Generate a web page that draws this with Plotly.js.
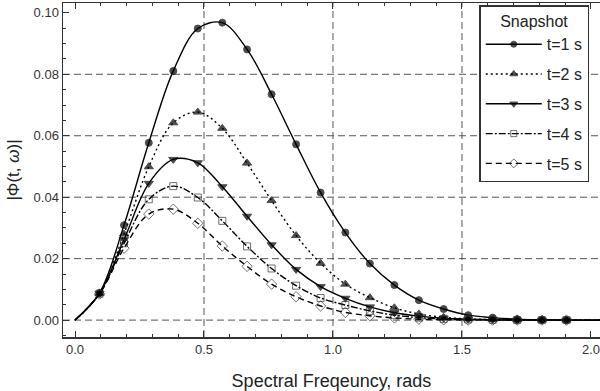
<!DOCTYPE html>
<html><head><meta charset="utf-8">
<script src="https://cdn.plot.ly/plotly-3.0.1.min.js"></script>
<style>html,body{margin:0;padding:0;background:#fff}#chart{width:600px;height:391px}</style>
</head><body><div id="chart"></div>
<script>
// Spectral frequency samples (rads): line from 0, markers at the inner points
const freq = [0, 0.095, 0.190, 0.286, 0.381, 0.476, 0.571, 0.667, 0.762, 0.857, 0.952,
  1.048, 1.143, 1.238, 1.333, 1.429, 1.524, 1.619, 1.714, 1.810, 1.905, 2.000, 2.095];
const seriesNames = ['t=1 s', 't=2 s', 't=3 s', 't=4 s', 't=5 s'];
const phiT1 = [0, 0.0088, 0.0309, 0.0577, 0.0811, 0.0949, 0.0968, 0.0881, 0.0735, 0.0572, 0.0415,
  0.0285, 0.0184, 0.0114, 0.0065, 0.0036, 0.0016, 0.0008, 0.0003, 0.0001, 0.0000, 0, 0];
const phiT2 = [0, 0.0087, 0.0280, 0.0499, 0.0642, 0.0677, 0.0624, 0.0511, 0.0389, 0.0275, 0.0185,
  0.0117, 0.0073, 0.0040, 0.0020, 0.0009, 0.0004, 0.0002, 0.0001, 0, 0, 0, 0];
const phiT3 = [0, 0.0087, 0.0262, 0.0445, 0.0523, 0.0512, 0.0434, 0.0338, 0.0245, 0.0165, 0.0109,
  0.0071, 0.0043, 0.0024, 0.0013, 0.0006, 0.0003, 0.0001, 0, 0, 0, 0, 0];
const phiT4 = [0, 0.0086, 0.0250, 0.0393, 0.0436, 0.0399, 0.0323, 0.0240, 0.0168, 0.0112, 0.0072,
  0.0049, 0.0030, 0.0016, 0.0008, 0.0004, 0.0002, 0.0001, 0, 0, 0, 0, 0];
const phiT5 = [0, 0.0085, 0.0234, 0.0345, 0.0361, 0.0315, 0.0241, 0.0175, 0.0117, 0.0076, 0.0046,
  0.0025, 0.0014, 0.0007, 0.0003, 0.0001, 0, 0, 0, 0, 0, 0, 0];
const allSeries = [phiT1, phiT2, phiT3, phiT4, phiT5];
const gridX = [0.5, 1.0, 1.5];
const gridY = [0, 0.02, 0.04, 0.06, 0.08];

const symbols = ['circle', 'triangle-up', 'triangle-down', 'square-open', 'diamond-open'];
const dashes = ['solid', '2px,3px', 'solid', '7px,2px,2px,2px', '6px,4px'];
const msizes = [7, 8, 8, 7, 8];
const mcolors = ['#000', '#000', '#000', '#333', '#333'];

const traces = allSeries.map((ys, i) => ({
  type: 'scatter', mode: 'lines+markers', name: seriesNames[i], legendgroup: 'g' + i,
  x: freq, y: ys,
  line: {color: '#000', width: 1.4, dash: dashes[i], shape: 'spline', smoothing: 1},
  marker: {symbol: symbols[i], color: mcolors[i],
    size: freq.map((f, j) => (j === 0 || j >= freq.length - 2) ? 0 : msizes[i]),
    line: {color: mcolors[i], width: 1}}
}));

const shapes = [];
gridX.forEach(v => shapes.push({type: 'line', xref: 'x', yref: 'paper', x0: v, x1: v, y0: 0, y1: 1,
  layer: 'below', line: {color: '#555', width: 1, dash: '7px,4px'}}));
gridY.forEach(v => shapes.push({type: 'line', xref: 'paper', yref: 'y', x0: 0, x1: 1, y0: v, y1: v,
  layer: 'below', line: {color: '#555', width: 1, dash: '7px,4px'}}));

const fontFam = 'Liberation Sans, Arial, sans-serif';
const layout = {
  width: 600, height: 391,
  margin: {l: 63, r: 0, t: 3, b: 54},
  paper_bgcolor: '#fff', plot_bgcolor: '#fff',
  font: {family: fontFam, color: '#222'},
  showlegend: true,
  shapes: shapes,
  xaxis: {
    range: [-0.0465, 2.035], tick0: 0, dtick: 0.5, tickformat: '.1f',
    ticks: 'inside', ticklen: 6, tickwidth: 1, tickcolor: '#333',
    showline: true, linecolor: '#333', linewidth: 1.5, mirror: 'allticks',
    showgrid: false, zeroline: false, ticklabeloverflow: 'allow',
    minor: {dtick: 0.1, tick0: 0, ticks: 'inside', ticklen: 3, tickcolor: '#333', showgrid: false},
    tickfont: {family: fontFam, size: 13, color: '#333'},
    title: {text: 'Spectral Freqeuncy, rads', font: {family: fontFam, size: 18, color: '#222'}}
  },
  yaxis: {
    range: [-0.0055, 0.1032], tick0: 0, dtick: 0.02, tickformat: '.2f',
    ticks: 'inside', ticklen: 6, tickwidth: 1, tickcolor: '#333',
    showline: true, linecolor: '#333', linewidth: 1.5, mirror: false,
    showgrid: false, zeroline: false,
    minor: {dtick: 0.005, tick0: 0, ticks: 'inside', ticklen: 3, tickcolor: '#333', showgrid: false},
    tickfont: {family: fontFam, size: 13, color: '#333'},
    title: {text: '|Φ(t, <i>ω</i>)|', font: {family: fontFam, size: 17, color: '#222'}}
  },
  legend: {
    x: 0.98, xanchor: 'right', y: 0.994, yanchor: 'top',
    bgcolor: '#fff', bordercolor: '#333', borderwidth: 1.5,
    font: {family: fontFam, size: 16, color: '#222'},
    title: {text: 'Snapshot', side: 'top center', font: {family: fontFam, size: 16, color: '#222'}},
    itemwidth: 56, traceorder: 'grouped', tracegroupgap: 6
  }
};

Plotly.newPlot('chart', traces, layout, {staticPlot: true, displayModeBar: false});
</script>
</body></html>
